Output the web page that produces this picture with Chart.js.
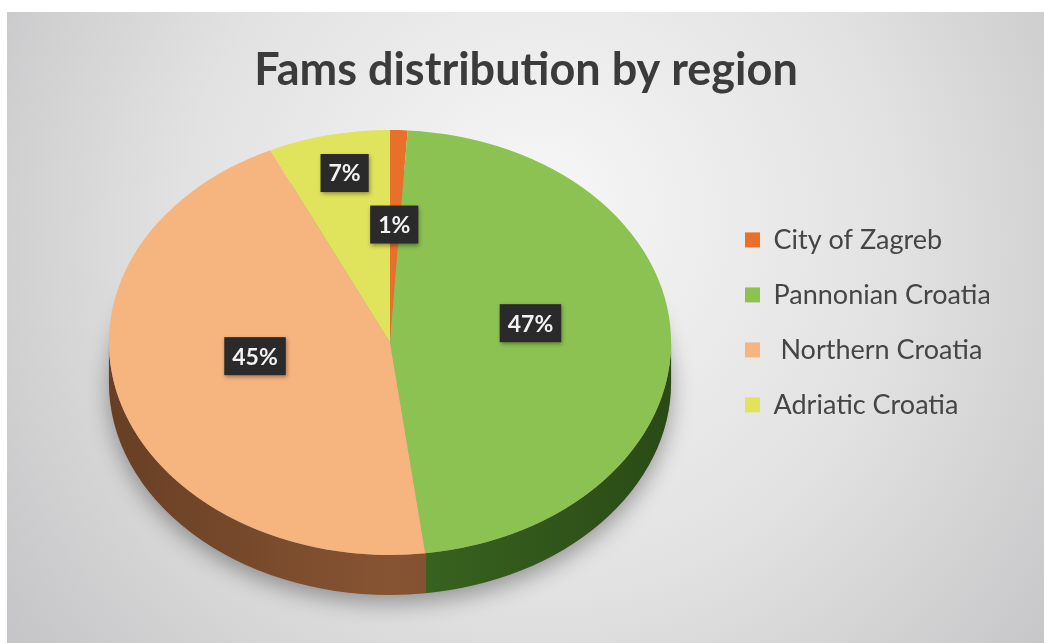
<!DOCTYPE html>
<html>
<head>
<meta charset="utf-8">
<script src="https://cdn.jsdelivr.net/npm/chart.js@4.4.1/dist/chart.umd.min.js"></script>
<style>
  html, body { margin: 0; padding: 0; background: #fff; }
  #wrap { width: 1044px; height: 643px; }
</style>
</head>
<body>
<div id="wrap"><canvas id="regions-canvas"></canvas></div>
<script>
const regions = ['City of Zagreb', 'Pannonian Croatia', ' Northern Croatia', 'Adriatic Croatia'];
const farmShares = [1, 47, 45, 7];

// fake 3d: squash the pie, add a side wall and boxed labels
const pie3d = {
    id: 'pie3d',
    beforeDraw(chart) {
        const { ctx, width, height } = chart;
        ctx.save();
        ctx.fillStyle = '#fff';
        ctx.fillRect(0, 0, width, height);
        const g = ctx.createRadialGradient(540, 200, 10, 540, 260, 640);
        g.addColorStop(0, '#f6f6f6');
        g.addColorStop(0.55, '#e2e2e2');
        g.addColorStop(1, '#c6c6c8');
        ctx.fillStyle = g;
        ctx.fillRect(7, 12, width - 7, height - 12);
        ctx.restore();
    },
    geometry(chart, opts) {
        const area = chart.chartArea;
        const arc = chart.getDatasetMeta(0).data[0];
        const ry = (area.bottom - area.top - opts.depth) / 2;
        const rx = ry / opts.tilt;
        return { cx: arc.x, cy: area.top + ry, rx, ry, ax: arc.x, ay: arc.y, R: arc.outerRadius };
    },
    beforeDatasetsDraw(chart, args, opts) {
        const ctx = chart.ctx;
        const g = this.geometry(chart, opts);
        const arcs = chart.getDatasetMeta(0).data;

        // shadow under the pie
        ctx.save();
        ctx.shadowColor = 'rgba(0,0,0,0.35)';
        ctx.shadowBlur = 22;
        ctx.shadowOffsetY = 8;
        ctx.fillStyle = '#9a9a9a';
        ctx.beginPath();
        ctx.ellipse(g.cx, g.cy + opts.depth, g.rx, g.ry, 0, 0, Math.PI * 2);
        ctx.fill();
        ctx.restore();

        // side wall, only the front half shows
        arcs.forEach((el, i) => {
            const a1 = Math.max(el.startAngle, 0);
            const a2 = Math.min(el.endAngle, Math.PI);
            if (a2 <= a1) return;
            ctx.save();
            const lg = ctx.createLinearGradient(g.cx - g.rx, 0, g.cx + g.rx, 0);
            lg.addColorStop(0, opts.sideDark[i]);
            lg.addColorStop(0.5, opts.sideColors[i]);
            lg.addColorStop(1, opts.sideDark[i]);
            ctx.fillStyle = lg;
            ctx.beginPath();
            ctx.ellipse(g.cx, g.cy, g.rx, g.ry, 0, a1, a2);
            ctx.ellipse(g.cx, g.cy + opts.depth, g.rx, g.ry, 0, a2, a1, true);
            ctx.closePath();
            ctx.fill();
            ctx.restore();
        });

        ctx.save();
        ctx.translate(g.cx, g.cy);
        ctx.scale(g.rx / g.R, g.ry / g.R);
        ctx.translate(-g.ax, -g.ay);
    },
    afterDatasetsDraw(chart, args, opts) {
        const ctx = chart.ctx;
        ctx.restore();
        const g = this.geometry(chart, opts);
        const values = chart.data.datasets[0].data;
        chart.getDatasetMeta(0).data.forEach((el, i) => {
            const mid = (el.startAngle + el.endAngle) / 2;
            const f = opts.labelRadius[i];
            const x = g.cx + f * g.rx * Math.cos(mid);
            const y = g.cy - opts.labelLift + f * g.ry * Math.sin(mid);
            const text = values[i] + '%';
            ctx.save();
            ctx.font = 'bold 23px Lato';
            const w = ctx.measureText(text).width + 16;
            const h = 38;
            ctx.shadowColor = 'rgba(0,0,0,0.35)';
            ctx.shadowBlur = 4;
            ctx.shadowOffsetX = 1;
            ctx.shadowOffsetY = 2;
            ctx.fillStyle = '#2a2a2a';
            ctx.fillRect(x - w / 2, y - h / 2, w, h);
            ctx.shadowColor = 'transparent';
            ctx.fillStyle = '#f2f2f2';
            ctx.textAlign = 'center';
            ctx.textBaseline = 'middle';
            ctx.fillText(text, x, y + 1);
            ctx.restore();
        });
    }
};

const data = {
    labels: regions,
    datasets: [{
        data: farmShares,
        backgroundColor: ['#e8702a', '#8cc251', '#f6b47e', '#e0e35c'],
        borderWidth: 0,
        clip: false
    }]
};

const config = {
    type: 'pie',
    data,
    options: {
        responsive: false,
        animation: false,
        events: [],
        layout: {
            padding: { top: 12, left: 63, bottom: 48, right: 1044 - 717 - 272 }
        },
        plugins: {
            title: {
                display: true,
                text: 'Fams distribution by region',
                color: '#3b3b3b',
                font: { family: 'Lato', size: 45, weight: 'bold' },
                padding: { top: 31, bottom: 33 }
            },
            legend: {
                position: 'right',
                align: 'start',
                maxWidth: 272,
                title: { display: true, text: '', font: { size: 12 }, padding: 86 },
                labels: {
                    color: '#454545',
                    font: { family: 'Lato', size: 27 },
                    boxWidth: 15,
                    boxHeight: 15,
                    padding: 28
                }
            },
            tooltip: { enabled: false },
            pie3d: {
                depth: 40,
                tilt: 0.756,
                sideColors: ['#8a3d12', '#3a6620', '#875433', '#7f8026'],
                sideDark: ['#6a2c0a', '#2a4a16', '#683f24', '#5f6018'],
                labelRadius: [0.48, 0.5, 0.5, 0.74],
                labelLift: 16
            }
        }
    },
    plugins: [pie3d]
};

const canvas = document.getElementById('regions-canvas');
canvas.width = 1044;
canvas.height = 643;
const regionsChart = new Chart(canvas, config);
</script>
</body>
</html>
